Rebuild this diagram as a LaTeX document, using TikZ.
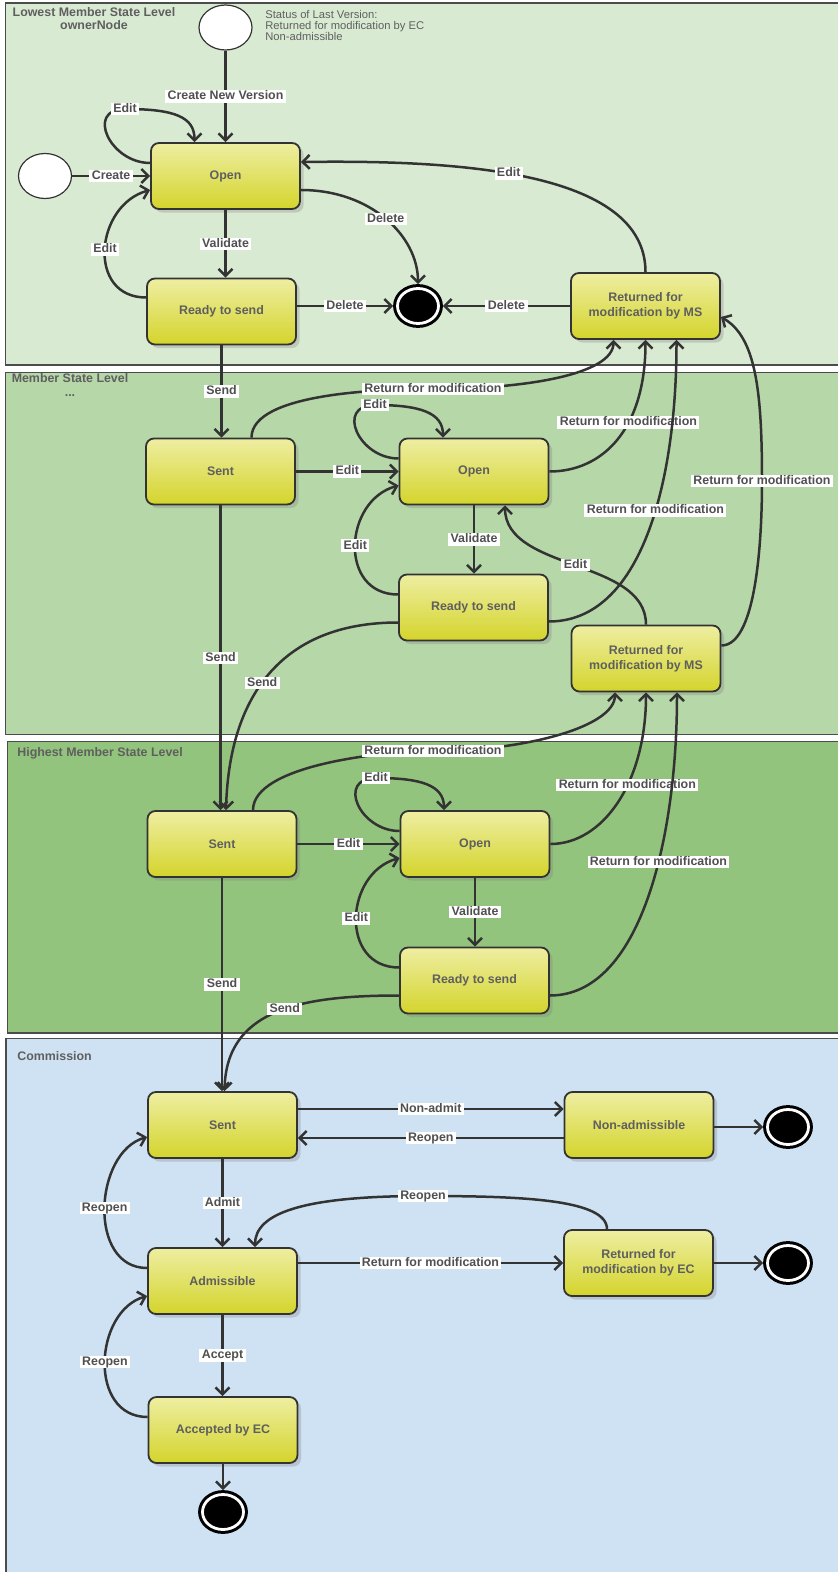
\documentclass[tikz,border=0pt]{standalone}
\usepackage{fontspec}
\setmainfont{Liberation Sans}
\usetikzlibrary{arrows.meta,shapes.geometric,shadows}

\definecolor{laneA}{RGB}{217,234,211}
\definecolor{laneB}{RGB}{182,215,168}
\definecolor{laneC}{RGB}{147,196,125}
\definecolor{laneD}{RGB}{207,226,243}
\definecolor{edgegrey}{RGB}{51,51,51}
\definecolor{txtgrey}{RGB}{95,95,95}
\definecolor{lblgrey}{RGB}{80,80,80}
\definecolor{boxtop}{RGB}{238,238,162}
\definecolor{boxbot}{RGB}{212,212,44}

\begin{document}
\begin{tikzpicture}[x=0.5pt, y=-0.5pt,
  st/.style={rectangle, rounded corners=4pt, draw=edgegrey, line width=0.9pt,
    top color=boxtop, bottom color=boxbot, minimum width=74.5pt, minimum height=33pt,
    align=center, text=txtgrey, font=\fontsize{6.2}{7.4}\selectfont\bfseries,
    drop shadow={shadow xshift=1.8pt, shadow yshift=-1.8pt, opacity=0.3}},
  ini/.style={ellipse, draw=edgegrey, fill=white, line width=0.6pt,
    minimum width=26.5pt, minimum height=22.5pt},
  fin/.style={ellipse, draw=black, fill=black, line width=1.5pt, double=white,
    double distance=1.4pt, minimum width=20.5pt, minimum height=17.5pt,
    inner sep=0pt, outer sep=2.2pt},
  tr/.style={draw=edgegrey, line width=1.25pt, -{Straight Barb[length=3.5pt,width=7pt]}},
  lbl/.style={fill=white, inner xsep=1.2pt, inner ysep=0.4pt, text=lblgrey,
    font=\fontsize{6.2}{7.4}\selectfont\bfseries, text height=4.4pt, text depth=1pt},
  lane/.style={draw=black!70, line width=0.8pt},
  lanetitle/.style={text=txtgrey, font=\fontsize{6.2}{6.6}\selectfont\bfseries,
    align=center, inner sep=0pt}
]
  \useasboundingbox (0,0) rectangle (837,1572);
  \fill[white] (0,0) rectangle (837,1572);

  % Swimlanes
  \draw[lane, fill=laneA] (5.5,3) rectangle (850,365);
  \draw[lane, fill=laneB] (5.5,372.5) rectangle (850,734.5);
  \draw[lane, fill=laneC] (7.5,741.5) rectangle (850,1033);
  \draw[lane, fill=laneD] (6,1038.5) rectangle (850,1590);

  \node[lanetitle] (tA) at (94,18.5) {Lowest Member State Level\\ownerNode};
  \node[lanetitle] (tB) at (70,385) {Member State Level\\...};
  \node[lanetitle, anchor=west] (tC) at (17,753) {Highest Member State Level};
  \node[lanetitle, anchor=west] (tD) at (17,1056) {Commission};
  \node[anchor=north west, align=left, inner sep=0pt, text=txtgrey,
    font=\fontsize{5.6}{5.4}\selectfont] (status) at (265,10)
    {Status of Last Version:\\Returned for modification by EC\\Non-admissible};

  % Lowest level
  \node[ini] (init1) at (225.5,27.5) {};
  \node[ini] (init2) at (45,176) {};
  \node[st] (open1) at (225.5,176) {Open};
  \node[st] (ready1) at (221.5,311.5) {Ready to send};
  \node[fin] (fin1) at (418,306) {};
  \node[st] (ret1) at (645.5,306) {Returned for\\modification by MS};

  % Member state level
  \node[st] (sent2) at (220.5,471.5) {Sent};
  \node[st] (open2) at (474,471.5) {Open};
  \node[st] (ready2) at (473.5,607.5) {Ready to send};
  \node[st] (ret2) at (646,658.5) {Returned for\\modification by MS};

  % Highest level
  \node[st] (sent3) at (222,844) {Sent};
  \node[st] (open3) at (475,844) {Open};
  \node[st] (ready3) at (474.5,980.5) {Ready to send};

  % Commission
  \node[st] (sent4) at (222.5,1125) {Sent};
  \node[st] (nonadm) at (639,1125) {Non-admissible};
  \node[fin] (nfin1) at (788,1127) {};
  \node[st] (adm) at (222.5,1281) {Admissible};
  \node[st] (ret4) at (638.5,1263) {Returned for\\modification by EC};
  \node[fin] (nfin2) at (788,1263) {};
  \node[st] (acc) at (223,1430) {Accepted by EC};
  \node[fin] (nfin3) at (223,1512) {};

  % Transitions, lowest level
  \draw[tr] (init1) -- (open1) node[lbl, midway] {Create New Version};
  \draw[tr] ([yshift=6.5pt]open1.west) .. controls +(-40,0) and +(-40,0) .. (125,109)
    node[lbl] {Edit} .. controls +(50,0) and +(0,-25) .. ([xshift=-15.5pt]open1.north);
  \draw[tr] (init2) -- (open1) node[lbl, midway] {Create};
  \draw[tr] ([yshift=7pt]ready1.west) .. controls +(-60,0) and +(-55,15) ..
    ([yshift=-7pt]open1.west) node[lbl, pos=0.5] {Edit};
  \draw[tr] (open1.south) -- (open1.south |- ready1.north) node[lbl, midway] {Validate};
  \draw[tr] ([yshift=-7pt]open1.east) .. controls +(70,0) and +(0,-48) .. (fin1.north)
    node[lbl, pos=0.5] {Delete};
  \draw[tr] (ready1.east |- fin1) -- (fin1) node[lbl, midway] {Delete};
  \draw[tr] (ret1.west |- fin1) -- (fin1) node[lbl, midway] {Delete};
  \draw[tr] (ret1.north) .. controls +(0,-103) and +(150,-2) .. ([yshift=7pt]open1.east)
    node[lbl, pos=0.55] {Edit};
  \draw[tr] (ready1.south) -- (ready1.south |- sent2.north) node[lbl, midway] {Send};

  % Transitions, member state level
  \draw[tr] ([xshift=15.5pt]sent2.north) .. controls +(0,-45) and +(-50,0) .. (433,389)
    node[lbl] {Return for modification} .. controls +(90,0) and +(0,35) ..
    ([xshift=-16pt]ret1.south);
  \draw[tr] ([yshift=6.5pt]open2.west) .. controls +(-40,0) and +(-40,0) .. (375,405)
    node[lbl] {Edit} .. controls +(45,0) and +(0,-25) .. ([xshift=-15.5pt]open2.north);
  \draw[tr] (sent2) -- (open2) node[lbl, midway] {Edit};
  \draw[tr] (open2.east) .. controls +(52,0) and +(0,91) .. (ret1.south)
    node[lbl, pos=0.62] {Return for modification};
  \draw[tr] (open2.south) -- (open2.south |- ready2.north) node[lbl, midway] {Validate};
  \draw[tr] ([yshift=6.5pt]ready2.west) .. controls +(-60,0) and +(-55,15) ..
    ([yshift=-7pt]open2.west) node[lbl, pos=0.5] {Edit};
  \draw[tr] ([yshift=-7pt]ready2.east) .. controls +(93,0) and +(0,141) ..
    ([xshift=15.5pt]ret1.south) node[lbl, pos=0.57] {Return for modification};
  \draw[tr] (ret2.north) .. controls +(0,-66) and +(0,66) .. ([xshift=15.5pt]open2.south)
    node[lbl, pos=0.5] {Edit};
  \draw[tr] ([yshift=6.5pt]ret2.east) .. controls +(38,0) and +(0,40) .. (762,481)
    node[lbl] {Return for modification} .. controls +(0,-90) and +(35,20) ..
    ([yshift=-5.5pt]ret1.east);
  \draw[tr] (sent2.south) -- (sent2.south |- sent3.north) node[lbl, midway] {Send};
  \draw[tr] ([yshift=-7.5pt]ready2.west) .. controls +(-119,0) and +(3,-111) ..
    ([xshift=2pt]sent3.north) node[lbl, pos=0.54] {Send};

  % Transitions, highest level
  \draw[tr] ([xshift=15.5pt]sent3.north) .. controls +(0,-45) and +(-50,0) .. (433,751)
    node[lbl] {Return for modification} .. controls +(90,0) and +(0,35) ..
    ([xshift=-15.5pt]ret2.south);
  \draw[tr] ([yshift=6.5pt]open3.west) .. controls +(-40,0) and +(-40,0) .. (376,778)
    node[lbl] {Edit} .. controls +(45,0) and +(0,-25) .. ([xshift=-15.5pt]open3.north);
  \draw[tr] (sent3) -- (open3) node[lbl, midway] {Edit};
  \draw[tr] (open3.east) .. controls +(52,0) and +(0,91) .. (ret2.south)
    node[lbl, pos=0.6] {Return for modification};
  \draw[tr] (open3.south) -- (open3.south |- ready3.north) node[lbl, midway] {Validate};
  \draw[tr] ([yshift=6.5pt]ready3.west) .. controls +(-60,0) and +(-55,15) ..
    ([yshift=-7pt]open3.west) node[lbl, pos=0.5] {Edit};
  \draw[tr] ([yshift=-7.5pt]ready3.east) .. controls +(91,0) and +(0,145) ..
    ([xshift=15.5pt]ret2.south) node[lbl, pos=0.6] {Return for modification};
  \draw[tr] (sent3.south) -- (sent3.south |- sent4.north) node[lbl, midway] {Send};
  \draw[tr] ([yshift=-7.5pt]ready3.west) .. controls +(-100,0) and +(2,-81) ..
    ([xshift=1pt]sent4.north) node[lbl, pos=0.45] {Send};

  % Transitions, commission
  \draw[tr] ([yshift=8pt]sent4.east) -- ([yshift=8pt]nonadm.west)
    node[lbl, midway] {Non-admit};
  \draw[tr] ([yshift=-6.5pt]nonadm.west) -- ([yshift=-6.5pt]sent4.east)
    node[lbl, midway] {Reopen};
  \draw[tr] (nonadm.east |- nfin1) -- (nfin1);
  \draw[tr] (sent4.south) -- (sent4.south |- adm.north) node[lbl, midway] {Admit};
  \draw[tr] ([yshift=6.5pt]adm.west) .. controls +(-60,0) and +(-53,15) ..
    ([yshift=-6pt]sent4.west) node[lbl, pos=0.5] {Reopen};
  \draw[tr] (adm.east |- ret4.west) -- (ret4.west)
    node[lbl, midway] {Return for modification};
  \draw[tr] ([xshift=-15.75pt]ret4.north) .. controls +(0,-30) and +(97,0) .. (423,1196)
    node[lbl] {Reopen} .. controls +(-123,0) and +(0,-33) .. ([xshift=16.25pt]adm.north);
  \draw[tr] (ret4.east |- nfin2) -- (nfin2);
  \draw[tr] (adm.south) -- (adm.south |- acc.north) node[lbl, midway] {Accept};
  \draw[tr] ([yshift=6.5pt]acc.west) .. controls +(-60,0) and +(-53,15) ..
    ([yshift=-7.5pt]adm.west) node[lbl, pos=0.5] {Reopen};
  \draw[tr] (acc.south) -- (acc.south |- nfin3.north);
\end{tikzpicture}
\end{document}
